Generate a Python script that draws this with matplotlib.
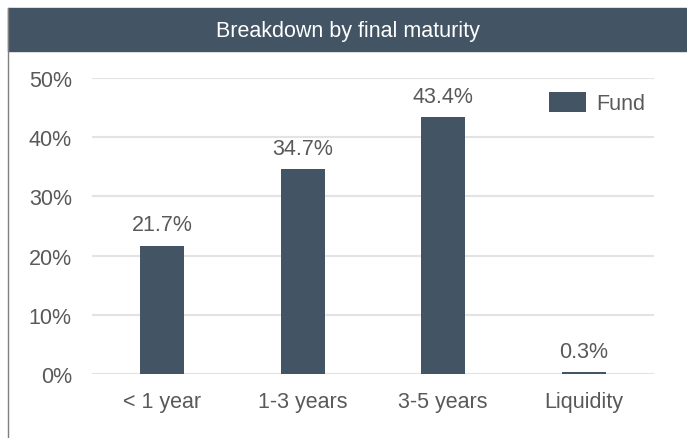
import matplotlib.pyplot as plt
from matplotlib.patches import Rectangle
from matplotlib.lines import Line2D

plt.rcParams['font.family'] = ['Liberation Sans', 'DejaVu Sans']

# data
categories = ["< 1 year", "1-3 years", "3-5 years", "Liquidity"]
fund = [21.7, 34.7, 43.4, 0.3]
yticks = [0, 10, 20, 30, 40, 50]

W, H = 687, 439
bar_color = "#435464"
text_color = "#595959"
fs = 15.5

fig = plt.figure(figsize=(W / 100, H / 100), dpi=100)

# title bar and left border
fig.patches.append(Rectangle((8 / W, 1 - 52 / H), (W - 8) / W, 43 / H,
                             transform=fig.transFigure, color="#435565", zorder=0))
fig.lines.append(Line2D([7.5 / W, 7.5 / W], [0, 1 - 9 / H], transform=fig.transFigure,
                        color="#7f7f7f", lw=1))
fig.text((8 + W) / 2 / W, 1 - 31 / H, "Breakdown by final maturity", color="white",
         fontsize=fs, ha="center", va="center")

# plot area: x 92..654, y 0% at 375, 50% at 79
ax = fig.add_axes([92 / W, 1 - 375 / H, (654 - 92) / W, (375 - 79) / H])
x = range(len(categories))
bars = ax.bar(x, fund, width=0.31, color=bar_color, label="Fund", zorder=3)
for xi, v in zip(x, fund):
    ax.text(xi, v + 1.7, f"{v:.1f}%", ha="center", va="bottom", fontsize=fs,
            color=text_color)

ax.set_xlim(-0.5, len(categories) - 0.5)
ax.set_ylim(0, 50)
ax.set_yticks(yticks)
ax.set_yticklabels([f"{t}%" for t in yticks])
ax.set_xticks(list(x))
ax.set_xticklabels(categories)
ax.tick_params(axis="both", length=0, labelsize=fs, colors=text_color)
ax.tick_params(axis="y", pad=14.5)
ax.tick_params(axis="x", pad=12)
ax.yaxis.grid(True, color="#e3e3e3", lw=1.5, zorder=0)
for s in ax.spines.values():
    s.set_visible(False)

ax.legend(loc="center right", bbox_to_anchor=(1.0, 0.916), borderaxespad=0,
          frameon=False, fontsize=fs, handlelength=1.72, handleheight=1.07,
          handletextpad=0.5, labelcolor=text_color)

fig.savefig("out.png", dpi=100)
